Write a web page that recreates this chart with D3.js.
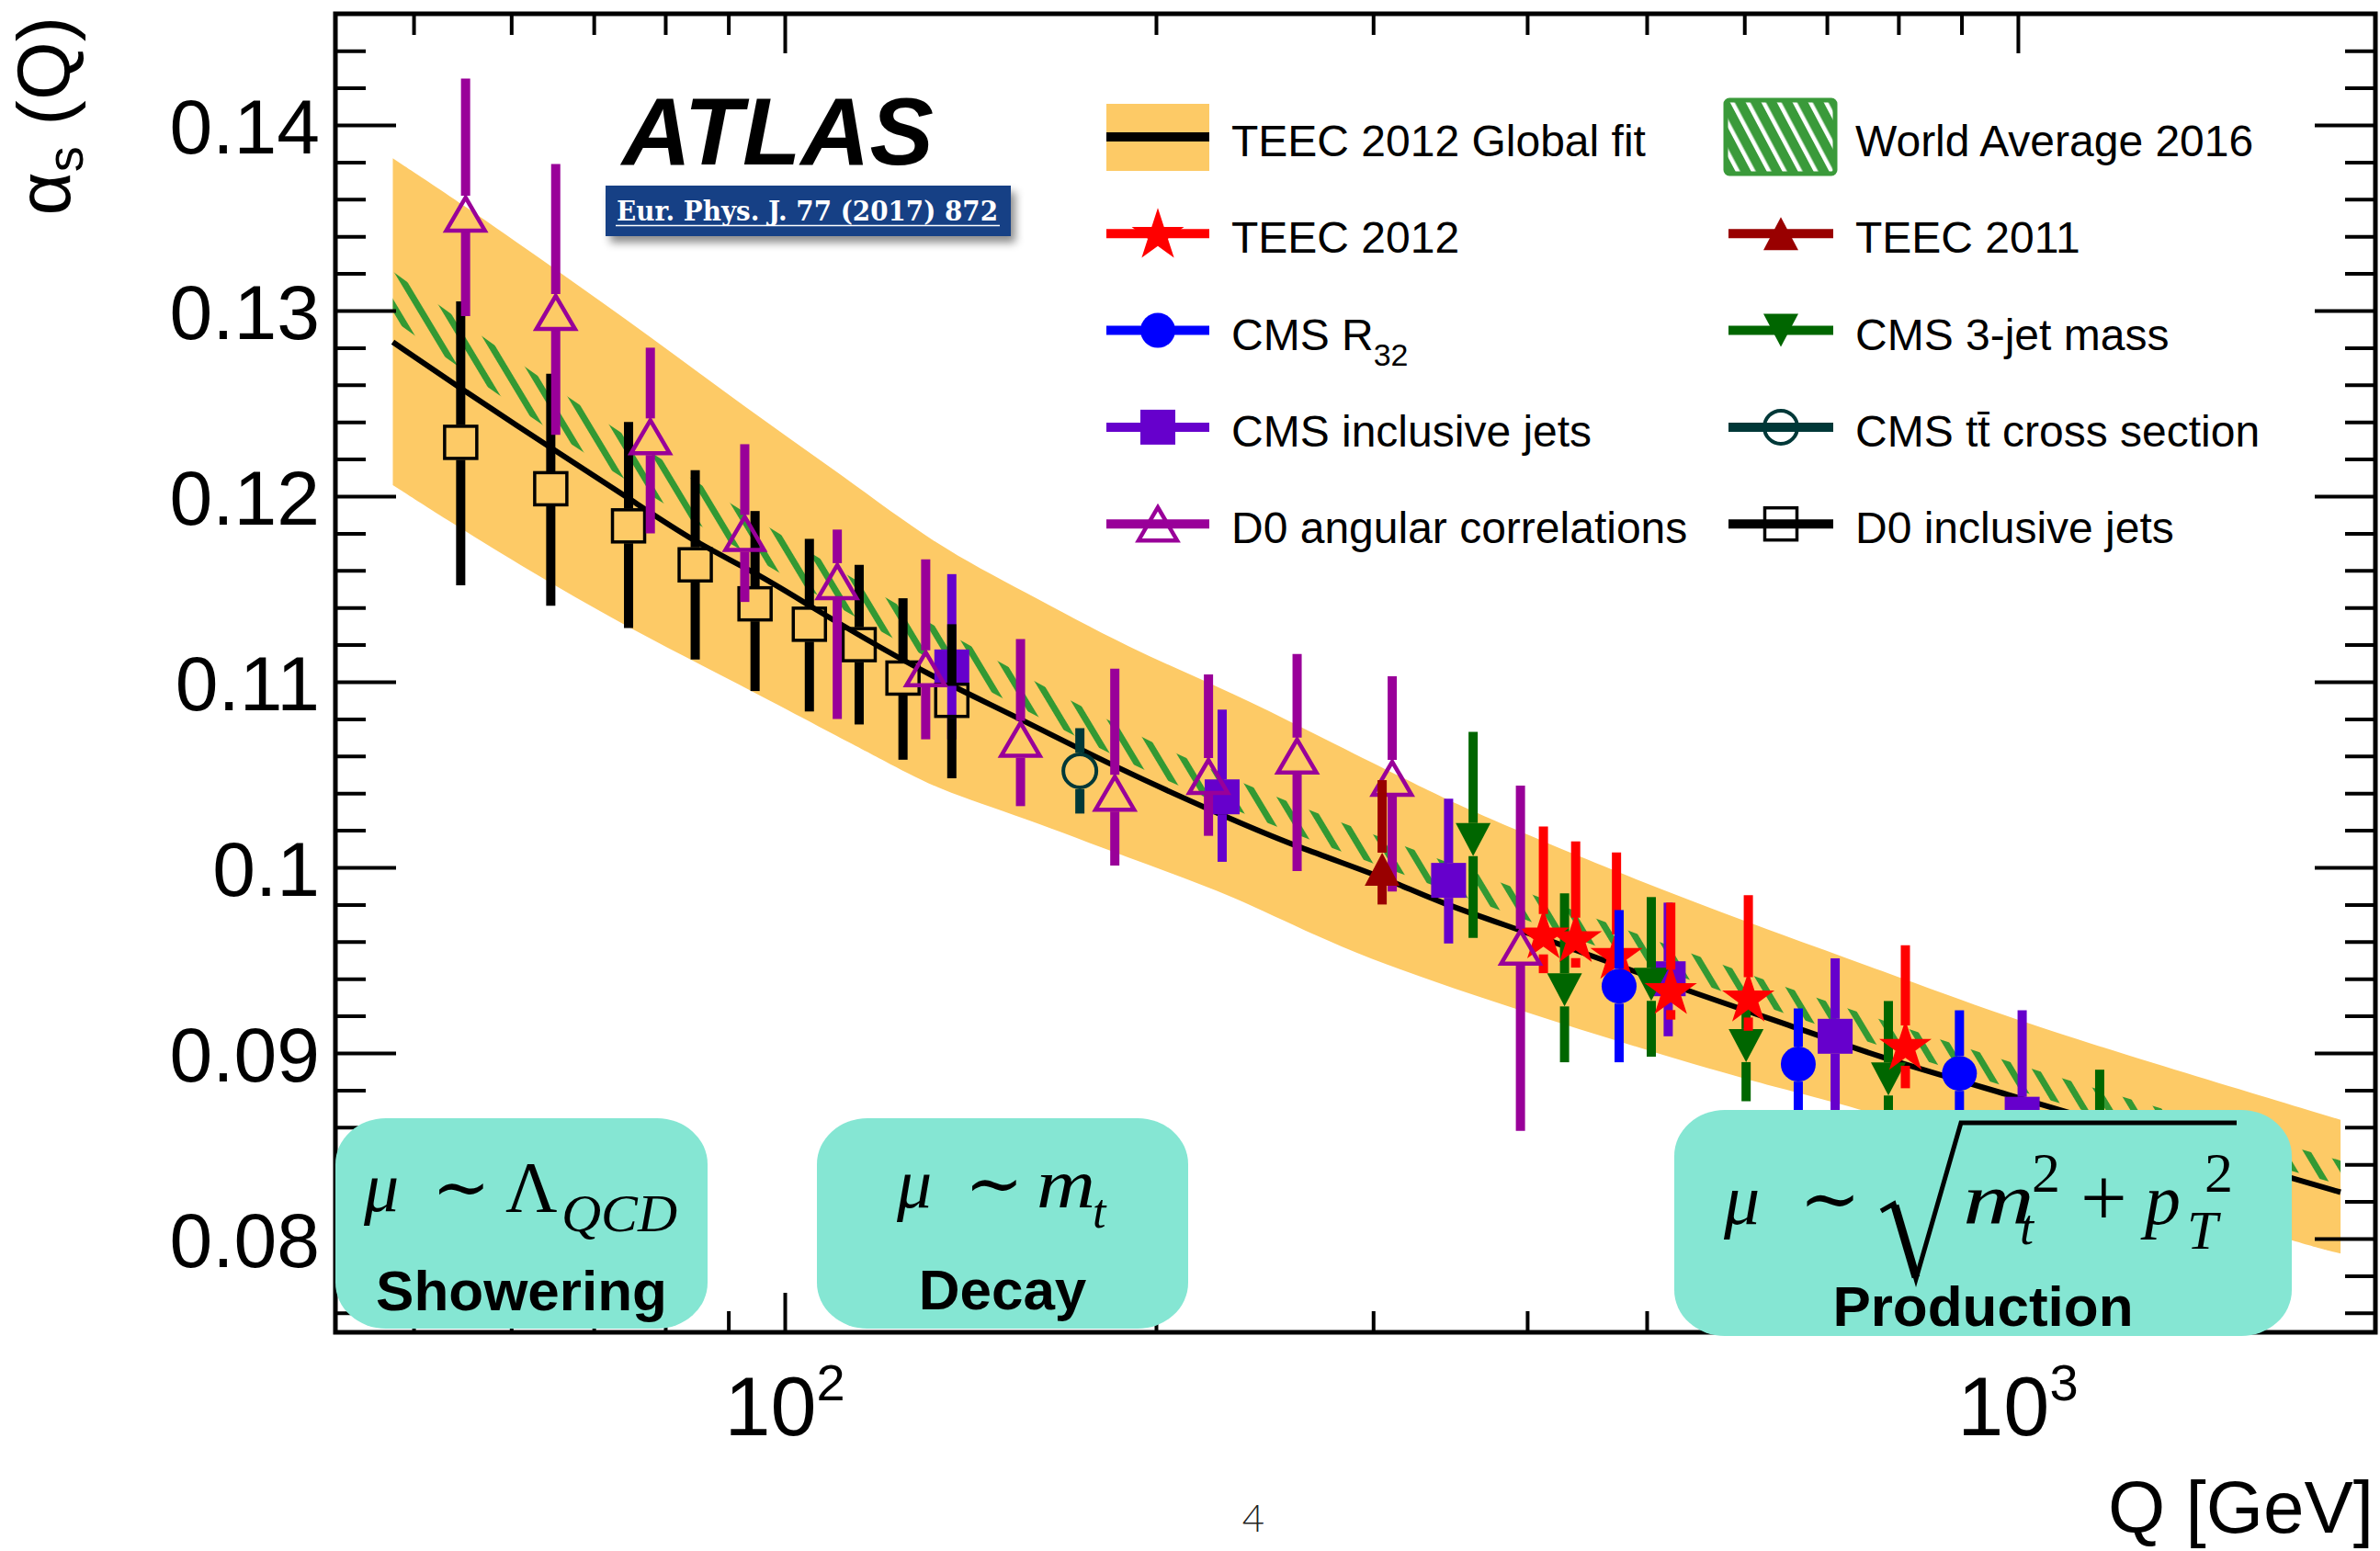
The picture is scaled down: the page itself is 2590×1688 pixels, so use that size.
<!DOCTYPE html>
<html>
<head>
<meta charset="utf-8">
<title>Running of alpha_s with Q</title>
<script src="https://d3js.org/d3.v7.min.js"></script>
<style>
  body { margin: 0; background: #fff; }
  svg { display: block; }
</style>
</head>
<body>
<div id="chart"></div>
<script>
// ---- data: [Q, alpha_s, lower, upper] ----
var teec2012 = [
  [412.3, 0.0964, 0.0943, 0.1022], [437.9, 0.0962, 0.0946, 0.1014],
  [472.6, 0.0953, 0.0934, 0.1008], [523.0, 0.0934, 0.0918, 0.0981],
  [604.5, 0.0930, 0.0912, 0.0985], [810.5, 0.0904, 0.0881, 0.0958]
];
var teec2011 = [[305.1, 0.0999, 0.0980, 0.1047]];
var cmsR32 = [
  [474.9, 0.0936, 0.0895, 0.0977], [663.6, 0.0894, 0.0856, 0.0924],
  [896.6, 0.0889, 0.0852, 0.0923]
];
var cms3jet = [
  [361.6, 0.1015, 0.0962, 0.1073], [428.9, 0.0934, 0.0895, 0.0986],
  [504.3, 0.0937, 0.0898, 0.0984], [602.0, 0.0904, 0.0874, 0.0925],
  [785.2, 0.0886, 0.0845, 0.0928], [1165, 0.0855, 0.0815, 0.0891]
];
var cmsInclusive = [
  [136.6, 0.1108, 0.1069, 0.1158], [226.3, 0.1038, 0.1003, 0.1085],
  [345.4, 0.0993, 0.0959, 0.1037], [520.5, 0.0940, 0.0909, 0.0981],
  [710.9, 0.0909, 0.0866, 0.0951], [1008, 0.0867, 0.0820, 0.0923]
];
var cmsTT = [[173.5, 0.1052, 0.1029, 0.1075]];
var d0Angular = [
  [55.1, 0.1352, 0.1297, 0.1425], [65.2, 0.1299, 0.1233, 0.1379],
  [77.8, 0.1232, 0.1180, 0.1280], [92.8, 0.1180, 0.1143, 0.1228],
  [110.3, 0.1154, 0.1080, 0.1182], [130.1, 0.1107, 0.1069, 0.1166],
  [155.3, 0.1069, 0.1033, 0.1123], [185.2, 0.1040, 0.1001, 0.1107],
  [220.6, 0.1049, 0.1017, 0.1104], [260.3, 0.1060, 0.0998, 0.1115],
  [310.9, 0.1048, 0.0987, 0.1103], [395.0, 0.0957, 0.0858, 0.1044]
];
var d0Inclusive = [
  [54.6, 0.1229, 0.1152, 0.1305], [64.6, 0.1204, 0.1141, 0.1266],
  [74.7, 0.1184, 0.1129, 0.1240], [84.6, 0.1163, 0.1112, 0.1214],
  [94.6, 0.1142, 0.1095, 0.1192], [104.7, 0.1131, 0.1084, 0.1177],
  [114.9, 0.1120, 0.1077, 0.1163], [124.7, 0.1102, 0.1058, 0.1145],
  [136.6, 0.1090, 0.1048, 0.1131]
];

// TEEC 2012 global fit: central curve and band edges [Q, alpha_s]
var fitCentre = [
  [48.1, 0.1283], [54.6, 0.1258], [64.6, 0.1226], [74.7, 0.1199], [84.6, 0.1175],
  [94.6, 0.1159], [104.7, 0.1141], [114.9, 0.1125], [131.4, 0.1103], [155.3, 0.1080],
  [185.3, 0.1054], [226.3, 0.1028], [260.3, 0.1011], [310.9, 0.0993], [335.8, 0.0982],
  [412.3, 0.0962], [536.1, 0.0934], [652.9, 0.0915], [778.5, 0.0897], [910, 0.0884],
  [1676, 0.0832], [1826.7, 0.0825]
];
var fitUpper = [
  [48.1, 0.1382], [54.6, 0.1358], [64.6, 0.1324], [77.8, 0.1286], [92.8, 0.1248],
  [111.5, 0.1211], [132.9, 0.1173], [156, 0.1149], [190, 0.1118], [231.3, 0.1094],
  [280, 0.1066], [335.8, 0.1040], [361.5, 0.1030], [469.9, 0.0998], [611.1, 0.0969],
  [778.5, 0.0944], [972.3, 0.0920], [1264.5, 0.0896], [1826.7, 0.0864]
];
var fitLower = [
  [48.1, 0.1206], [52.4, 0.1190], [63.4, 0.1156], [75.2, 0.1128], [91.6, 0.1099],
  [111.5, 0.1069], [120, 0.1058], [132.9, 0.1042], [156, 0.1027], [190, 0.1005],
  [231.3, 0.0985], [280, 0.0957], [361.5, 0.0931], [469.9, 0.0907], [611.1, 0.0884],
  [744.6, 0.0871], [1676, 0.0798], [1826.7, 0.0792]
];
// world average 2016 band [Q, lower, upper]
var worldAverage = [
  [48.1, 0.1295, 0.1321], [70, 0.1220, 0.1244], [100, 0.1157, 0.1178],
  [140, 0.1102, 0.1121], [198, 0.1051, 0.1068], [373, 0.0979, 0.0994],
  [945, 0.0885, 0.0899], [1826.7, 0.0829, 0.0842]
];

var yTicks = [0.08, 0.09, 0.1, 0.11, 0.12, 0.13, 0.14];
var yTickLabels = ["0.08", "0.09", "0.1", "0.11", "0.12", "0.13", "0.14"];
var xMajor = [100, 1000];
var xMajorLabels = [["10", "2"], ["10", "3"]];
var xMinor = [50, 60, 70, 80, 90, 200, 300, 400, 500, 600, 700, 800, 900];

var legendLeft = ["TEEC 2012 Global fit", "TEEC 2012", "CMS R", "CMS inclusive jets", "D0 angular correlations"];
var legendRight = ["World Average 2016", "TEEC 2011", "CMS 3-jet mass", "CMS tt\u0304 cross section", "D0 inclusive jets"];

// ---- layout ----
var W = 2590, H = 1688;
var plot = { left: 365, right: 2585, top: 15, bottom: 1450 };
var sans = "'Liberation Sans', Arial, Helvetica, sans-serif";
var serif = "'Liberation Serif', 'Times New Roman', 'DejaVu Serif', serif";

var x = d3.scaleLog().domain([43.21, 1949.5]).range([plot.left, plot.right]);
var y = d3.scaleLinear().domain([0.07495, 0.14599]).range([plot.bottom, plot.top]);

var svg = d3.select("#chart").append("svg")
  .attr("width", W).attr("height", H)
  .style("font-family", sans);
svg.append("rect").attr("width", W).attr("height", H).attr("fill", "#fff");

var defs = svg.append("defs");
var hatch = defs.append("pattern").attr("id", "waHatch")
  .attr("patternUnits", "userSpaceOnUse").attr("width", 23).attr("height", 23)
  .attr("patternTransform", "rotate(-31)");
hatch.append("rect").attr("x", 8).attr("y", 0).attr("width", 7).attr("height", 23).attr("fill", "#339933");

var hatchLeg = defs.append("pattern").attr("id", "waHatchLegend")
  .attr("patternUnits", "userSpaceOnUse").attr("width", 15).attr("height", 15)
  .attr("patternTransform", "rotate(-28)");
hatchLeg.append("rect").attr("width", 15).attr("height", 15).attr("fill", "#3a9a3a");
hatchLeg.append("rect").attr("x", 5).attr("width", 4.5).attr("height", 15).attr("fill", "#fff");

var shadow = defs.append("filter").attr("id", "shadow")
  .attr("x", "-10%").attr("y", "-30%").attr("width", "130%").attr("height", "180%");
shadow.append("feDropShadow").attr("dx", 5).attr("dy", 7).attr("stdDeviation", 5)
  .attr("flood-color", "#000").attr("flood-opacity", 0.45);

// ---- fit band, world average, fit line ----
var edge = d3.line().x(function(d) { return x(d[0]); }).y(function(d) { return y(d[1]); })
  .curve(d3.curveBasis);
var upperPath = edge(fitUpper);
var lowerPath = edge(fitLower.slice().reverse());
svg.append("path").attr("d", upperPath + "L" + lowerPath.slice(1) + "Z").attr("fill", "#fdca66");

svg.append("path")
  .attr("d", d3.area()
    .x(function(d) { return x(d[0]); })
    .y0(function(d) { return y(d[1]); })
    .y1(function(d) { return y(d[2]); })
    .curve(d3.curveMonotoneX)(worldAverage))
  .attr("fill", "url(#waHatch)");

svg.append("path")
  .attr("d", edge(fitCentre))
  .attr("fill", "none").attr("stroke", "#000").attr("stroke-width", 6);

// ---- markers ----
function drawMarker(g, shape, cx, cy, color) {
  var p;
  if (shape === "star") {
    g.append("path").attr("d", d3.symbol(d3.symbolStar, 1010)())
      .attr("transform", "translate(" + cx + "," + (cy + 2) + ")").attr("fill", color);
    return 26;
  }
  if (shape === "circle") {
    g.append("circle").attr("cx", cx).attr("cy", cy).attr("r", 19).attr("fill", color);
    return 19;
  }
  if (shape === "circleOpen") {
    g.append("circle").attr("cx", cx).attr("cy", cy).attr("r", 18)
      .attr("fill", "none").attr("stroke", color).attr("stroke-width", 4);
    return 20;
  }
  if (shape === "square") {
    g.append("rect").attr("x", cx - 19).attr("y", cy - 19).attr("width", 38).attr("height", 38).attr("fill", color);
    return 19;
  }
  if (shape === "squareOpen") {
    g.append("rect").attr("x", cx - 17.5).attr("y", cy - 17.5).attr("width", 35).attr("height", 35)
      .attr("fill", "none").attr("stroke", color).attr("stroke-width", 3.5);
    return 19;
  }
  if (shape === "triUp" || shape === "triDown" || shape === "triUpOpen") {
    var w = shape === "triUpOpen" ? 42 : 38, h = 36;
    var s = shape === "triDown" ? -1 : 1;
    p = "M" + cx + "," + (cy - s * h / 2) + "L" + (cx + w / 2) + "," + (cy + s * h / 2) +
        "L" + (cx - w / 2) + "," + (cy + s * h / 2) + "Z";
    var el = g.append("path").attr("d", p);
    if (shape === "triUpOpen") {
      el.attr("fill", "none").attr("stroke", color).attr("stroke-width", 4.5).attr("stroke-linejoin", "miter");
    } else {
      el.attr("fill", color);
    }
    return h / 2 + 2;
  }
  return 0;
}

var series = [
  { data: cmsInclusive, color: "#6600cc", shape: "square" },
  { data: cms3jet, color: "#006600", shape: "triDown" },
  { data: teec2012, color: "#ff0000", shape: "star" },
  { data: cmsR32, color: "#0000ff", shape: "circle" },
  { data: cmsTT, color: "#003838", shape: "circleOpen" },
  { data: d0Inclusive, color: "#000000", shape: "squareOpen" },
  { data: d0Angular, color: "#990099", shape: "triUpOpen" },
  { data: teec2011, color: "#990000", shape: "triUp" }
];

var pts = svg.append("g");
series.forEach(function(s) {
  var g = pts.append("g");
  s.data.forEach(function(d) {
    var cx = x(d[0]), cy = y(d[1]);
    var hh = { star: 22, circle: 19, circleOpen: 20, square: 19, squareOpen: 19, triUp: 18, triDown: 18, triUpOpen: 20 }[s.shape];
    if (y(d[3]) < cy - hh) {
      g.append("line").attr("x1", cx).attr("x2", cx).attr("y1", y(d[3])).attr("y2", cy - hh)
        .attr("stroke", s.color).attr("stroke-width", 10);
    }
    if (y(d[2]) > cy + hh) {
      g.append("line").attr("x1", cx).attr("x2", cx).attr("y1", cy + hh).attr("y2", y(d[2]))
        .attr("stroke", s.color).attr("stroke-width", 10);
    }
    drawMarker(g, s.shape, cx, cy, s.color);
  });
});

// ---- frame and ticks ----
function ticks(axisFn, scale, values, size, transform) {
  var g = svg.append("g").attr("transform", transform)
    .call(axisFn(scale).tickValues(values).tickSize(size).tickFormat(""));
  g.select(".domain").remove();
  g.selectAll(".tick line").attr("stroke", "#000").attr("stroke-width", 4);
  g.selectAll(".tick text").remove();
}
var yMinor = d3.range(38, 73).filter(function(i) { return i % 5 !== 0; }).map(function(i) { return i * 0.002; });

ticks(d3.axisLeft, y, yTicks, -66, "translate(" + plot.left + ",0)");
ticks(d3.axisLeft, y, yMinor, -33, "translate(" + plot.left + ",0)");
ticks(d3.axisRight, y, yTicks, -66, "translate(" + plot.right + ",0)");
ticks(d3.axisRight, y, yMinor, -33, "translate(" + plot.right + ",0)");
ticks(d3.axisBottom, x, xMajor, -43, "translate(0," + plot.bottom + ")");
ticks(d3.axisBottom, x, xMinor, -23, "translate(0," + plot.bottom + ")");
ticks(d3.axisTop, x, xMajor, -43, "translate(0," + plot.top + ")");
ticks(d3.axisTop, x, xMinor, -23, "translate(0," + plot.top + ")");

svg.append("rect").attr("x", plot.left).attr("y", plot.top)
  .attr("width", plot.right - plot.left).attr("height", plot.bottom - plot.top)
  .attr("fill", "none").attr("stroke", "#000").attr("stroke-width", 5);

// tick labels
yTicks.forEach(function(v, i) {
  svg.append("text").attr("x", 348).attr("y", y(v) + 31)
    .attr("text-anchor", "end").attr("font-size", 84).text(yTickLabels[i]);
});
xMajor.forEach(function(v, i) {
  var t = svg.append("text").attr("x", x(v)).attr("y", 1562)
    .attr("text-anchor", "middle").attr("font-size", 90);
  t.append("tspan").text(xMajorLabels[i][0]);
  t.append("tspan").attr("font-size", 56).attr("dy", -38).text(xMajorLabels[i][1]);
});

// axis titles
var yt = svg.append("text").attr("transform", "translate(76,18) rotate(-90)")
  .attr("text-anchor", "end").attr("font-size", 82);
yt.append("tspan").text("\u03b1");
yt.append("tspan").attr("font-size", 56).attr("dy", 14).text("s");
yt.append("tspan").attr("dy", -14).text(" (Q)");

svg.append("text").attr("x", 2583).attr("y", 1668).attr("text-anchor", "end")
  .attr("font-size", 80).text("Q [GeV]");

svg.append("text").attr("x", 1364).attr("y", 1667).attr("text-anchor", "middle")
  .attr("font-size", 42).attr("font-family", "Lato, 'Liberation Sans', sans-serif")
  .attr("font-weight", 300).attr("fill", "#222").text("4");

// ATLAS label and reference
svg.append("text").attr("x", 677).attr("y", 179)
  .attr("font-size", 104).attr("font-weight", "bold").attr("font-style", "italic").text("ATLAS");
svg.append("rect").attr("x", 659).attr("y", 202).attr("width", 441).attr("height", 55)
  .attr("fill", "#143f85").attr("filter", "url(#shadow)");
svg.append("text").attr("x", 671).attr("y", 240)
  .attr("font-family", "'DejaVu Serif', serif").attr("font-weight", "bold")
  .attr("font-size", 29).attr("fill", "#fff")
  .attr("textLength", 415).attr("lengthAdjust", "spacingAndGlyphs")
  .text("Eur. Phys. J. 77 (2017) 872");
svg.append("line").attr("x1", 670).attr("x2", 1088).attr("y1", 245.5).attr("y2", 245.5)
  .attr("stroke", "#fff").attr("stroke-width", 1.6);

// ---- legend ----
var legY0 = 149, legStep = 105.3;
var col1 = { x0: 1204, x1: 1316, tx: 1340 }, col2 = { x0: 1881, x1: 1995, tx: 2019 };
var leg = svg.append("g");

function legLine(c, yy, color) {
  leg.append("line").attr("x1", c.x0).attr("x2", c.x1).attr("y1", yy).attr("y2", yy)
    .attr("stroke", color).attr("stroke-width", 10);
}
// left column
leg.append("rect").attr("x", col1.x0).attr("y", 113).attr("width", col1.x1 - col1.x0).attr("height", 73).attr("fill", "#fdca66");
legLine(col1, legY0, "#000");
var leftStyles = [null, ["#ff0000", "star"], ["#0000ff", "circle"], ["#6600cc", "square"], ["#990099", "triUpOpen"]];
var rightStyles = [null, ["#990000", "triUp"], ["#006600", "triDown"], ["#003838", "circleOpen"], ["#000000", "squareOpen"]];
for (var i = 1; i < 5; i++) {
  var yy = legY0 + i * legStep;
  legLine(col1, yy, leftStyles[i][0]);
  drawMarker(leg, leftStyles[i][1], (col1.x0 + col1.x1) / 2, yy, leftStyles[i][0]);
  legLine(col2, yy, rightStyles[i][0]);
  drawMarker(leg, rightStyles[i][1], (col2.x0 + col2.x1) / 2, yy, rightStyles[i][0]);
}
leg.append("rect").attr("x", 1878).attr("y", 109).attr("width", 119).attr("height", 80)
  .attr("rx", 4).attr("fill", "url(#waHatchLegend)").attr("stroke", "#3a9a3a").attr("stroke-width", 5);

legendLeft.forEach(function(label, i) {
  var t = leg.append("text").attr("x", col1.tx).attr("y", legY0 + i * legStep + 21).attr("font-size", 48).text(label);
  if (i === 2) t.append("tspan").attr("font-size", 34).attr("dy", 17).text("32");
});
legendRight.forEach(function(label, i) {
  leg.append("text").attr("x", col2.tx).attr("y", legY0 + i * legStep + 21).attr("font-size", 48).text(label);
});

// ---- scale annotation boxes ----
var boxes = [
  { x: 365, y: 1217, w: 405, h: 229, word: "Showering", wy: 1426 },
  { x: 889, y: 1217, w: 404, h: 229, word: "Decay", wy: 1425 },
  { x: 1822, y: 1208, w: 672, h: 246, word: "Production", wy: 1443 }
];
var ann = svg.append("g");
boxes.forEach(function(b) {
  ann.append("rect").attr("x", b.x).attr("y", b.y).attr("width", b.w).attr("height", b.h)
    .attr("rx", 55).attr("ry", 50).attr("fill", "#85e6d3");
  ann.append("text").attr("x", b.x + b.w / 2).attr("y", b.wy).attr("text-anchor", "middle")
    .attr("font-size", 62).attr("font-weight", "bold").text(b.word);
});

function mathText(tx, ty, size, str, italic, extra) {
  var t = ann.append("text").attr("x", tx).attr("y", ty).attr("font-family", serif)
    .attr("font-size", size).attr("font-style", italic ? "italic" : "normal").text(str);
  if (extra) t.attr("textLength", extra).attr("lengthAdjust", "spacingAndGlyphs");
  return t;
}
// box 1: mu ~ Lambda_QCD
mathText(396, 1318, 76, "\u03bc", true);
mathText(470, 1318, 76, "\u223c", false);
mathText(550, 1318, 78, "\u039b", false);
mathText(611, 1340, 58, "QCD", true, 126);
// box 2: mu ~ m_t
mathText(976, 1314, 76, "\u03bc", true);
mathText(1050, 1314, 76, "\u223c", false);
mathText(1128, 1314, 76, "m", true, 64);
mathText(1189, 1336, 52, "t", true);
// box 3: mu ~ sqrt(m_t^2 + p_T^2)
mathText(1876, 1332, 78, "\u03bc", true);
mathText(1958, 1332, 80, "\u223c", false);
ann.append("path").attr("d", "M2047,1318 L2061,1310 L2085,1392 L2134,1222 L2434,1222")
  .attr("fill", "none").attr("stroke", "#000").attr("stroke-width", 5).attr("stroke-linejoin", "miter");
ann.append("line").attr("x1", 2062).attr("y1", 1312).attr("x2", 2085).attr("y2", 1390)
  .attr("stroke", "#000").attr("stroke-width", 9);
mathText(2136, 1332, 78, "m", true, 78);
mathText(2211, 1297, 62, "2", false);
mathText(2198, 1354, 54, "t", true);
mathText(2264, 1334, 90, "+", false);
mathText(2334, 1332, 78, "p", true);
mathText(2399, 1297, 62, "2", false);
mathText(2380, 1359, 60, "T", true);
</script>
</body>
</html>
